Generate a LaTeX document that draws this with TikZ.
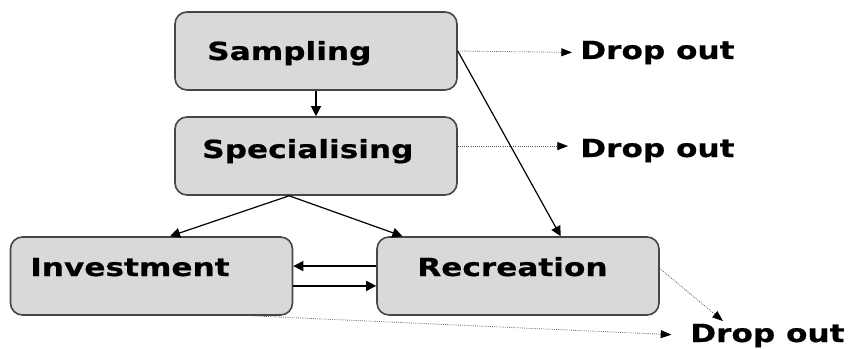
\documentclass[tikz,border=0pt]{standalone}
\usepackage{fontspec}
\usepackage{tikz}
\usetikzlibrary{arrows.meta}
\newfontfamily\lblfont{DejaVu Sans Bold}[FakeStretch=1.25,FakeBold=0.6]
\definecolor{boxgray}{RGB}{217,217,217}
\definecolor{edgegray}{RGB}{70,70,70}

\begin{document}
\begin{tikzpicture}[x=0.75pt,y=-0.75pt,
    box/.style={draw=edgegray,line width=1.2pt,fill=boxgray,rounded corners=9pt,
        minimum width=211.5pt,minimum height=58.5pt},
    lbl/.style={inner sep=0pt,anchor=base west,font=\lblfont\fontsize{18.7}{22}\selectfont},
    flow/.style={-{Triangle[length=7.5pt,width=7.5pt]},line width=0.9pt},
    drop/.style={-{Triangle[length=8pt,width=6pt,color=black]},densely dotted,line width=0.6pt,draw=gray!70!black}]
    \useasboundingbox (0,0) rectangle (849,349);

    % Stages
    \node[box] (samp) at (316,51) {};
    \node[box] (spec) at (316,156) {};
    \node[box] (inv) at (151.5,276) {};
    \node[box] (recr) at (518,276) {};
    \node[lbl] (sampt) at (207,60) {Sampling};
    \node[lbl] (spect) at (202,158) {Specialising};
    \node[lbl] (invt) at (30,276) {Investment};
    \node[lbl] (recrt) at (417,276) {Recreation};

    % Drop out
    \node[lbl] (drop1) at (580,59) {Drop out};
    \node[lbl] (drop2) at (580,157) {Drop out};
    \node[lbl] (drop3) at (690,342) {Drop out};

    % Transitions
    \draw[flow] (samp.south) -- (spec.north);
    \draw[flow] (samp.east) -- (recr.43);
    \draw[flow] (spec.236) -- (inv.65);
    \draw[flow] (spec.236) -- (recr.161);
    \draw[flow] (recr.176) -- (inv.4);
    \draw[flow] (inv.356) -- (recr.184);

    % Leaving the sport
    \draw[drop,shorten >=6pt] (samp.east) -- (drop1.west);
    \draw[drop,shorten >=9pt] (spec.4) -- (spec.4 -| drop2.west);
    \draw[drop,shorten >=3pt] (recr.3) -- ([xshift=27pt]drop3.north west);
    \draw[drop,shorten >=14pt] ([xshift=-31.5pt]inv.south east) -- (drop3.west);
\end{tikzpicture}
\end{document}
